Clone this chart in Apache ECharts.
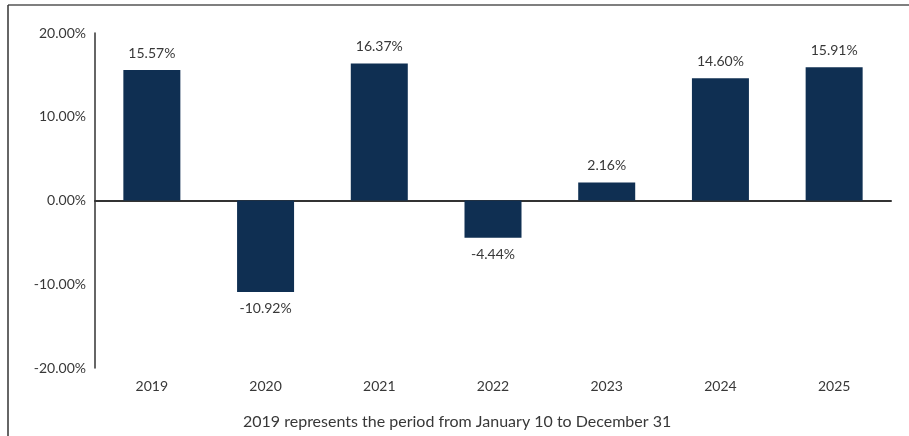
<!DOCTYPE html>
<html>
<head>
<meta charset="utf-8">
<script src="https://cdn.jsdelivr.net/npm/echarts@6/dist/echarts.min.js"></script>
<style>
  html, body { margin: 0; padding: 0; background: #fff; }
  #chart { width: 909px; height: 436px; }
</style>
</head>
<body>
<div id="chart"></div>
<script>
// data
const years = ['2019', '2020', '2021', '2022', '2023', '2024', '2025'];
const returns = [15.57, -10.92, 16.37, -4.44, 2.16, 14.60, 15.91];
const footnote = '2019 represents the period from January 10 to December 31';

const FONT = 'Lato';
const TEXT = '#383838';
const BAR = '#0f2f52';

const chart = echarts.init(document.getElementById('chart'));

const option = {
  animation: false,
  textStyle: { fontFamily: FONT },
  grid: { left: 95, right: 18, top: 33, bottom: 68 },
  graphic: [
    // frame: top + left border
    { type: 'line', shape: { x1: 8, y1: 5, x2: 909, y2: 5 }, style: { stroke: '#555', lineWidth: 1.5 } },
    { type: 'line', shape: { x1: 8, y1: 5, x2: 8, y2: 436 }, style: { stroke: '#333', lineWidth: 1.5 } },
    {
      type: 'text', left: 243, top: 414,
      style: { text: footnote, fill: TEXT, font: '16px ' + FONT }
    }
  ],
  xAxis: [
    {
      type: 'category',
      data: years,
      position: 'bottom',
      axisLine: { show: false, onZero: false },
      axisTick: { show: false },
      axisLabel: { color: TEXT, fontSize: 14, margin: 11 }
    },
    {
      type: 'category',
      data: years,
      axisLine: { onZero: true, lineStyle: { color: '#333', width: 2 } },
      axisTick: { show: false },
      axisLabel: { show: false }
    }
  ],
  yAxis: {
    type: 'value',
    min: -20,
    max: 20,
    interval: 10,
    splitLine: { show: false },
    axisLine: { show: true, lineStyle: { color: '#333', width: 1.5 } },
    axisTick: { show: false },
    axisLabel: {
      color: TEXT,
      fontSize: 14,
      margin: 9,
      formatter: (v) => v.toFixed(2) + '%'
    }
  },
  series: [
    {
      type: 'bar',
      xAxisIndex: 0,
      data: returns.map((v) => ({
        value: v,
        label: { position: v < 0 ? 'bottom' : 'top' }
      })),
      barWidth: 57,
      itemStyle: { color: BAR },
      label: {
        show: true,
        color: TEXT,
        fontSize: 14,
        distance: 10,
        formatter: (p) => p.value.toFixed(2) + '%'
      }
    }
  ]
};

chart.setOption(option);
</script>
</body>
</html>
